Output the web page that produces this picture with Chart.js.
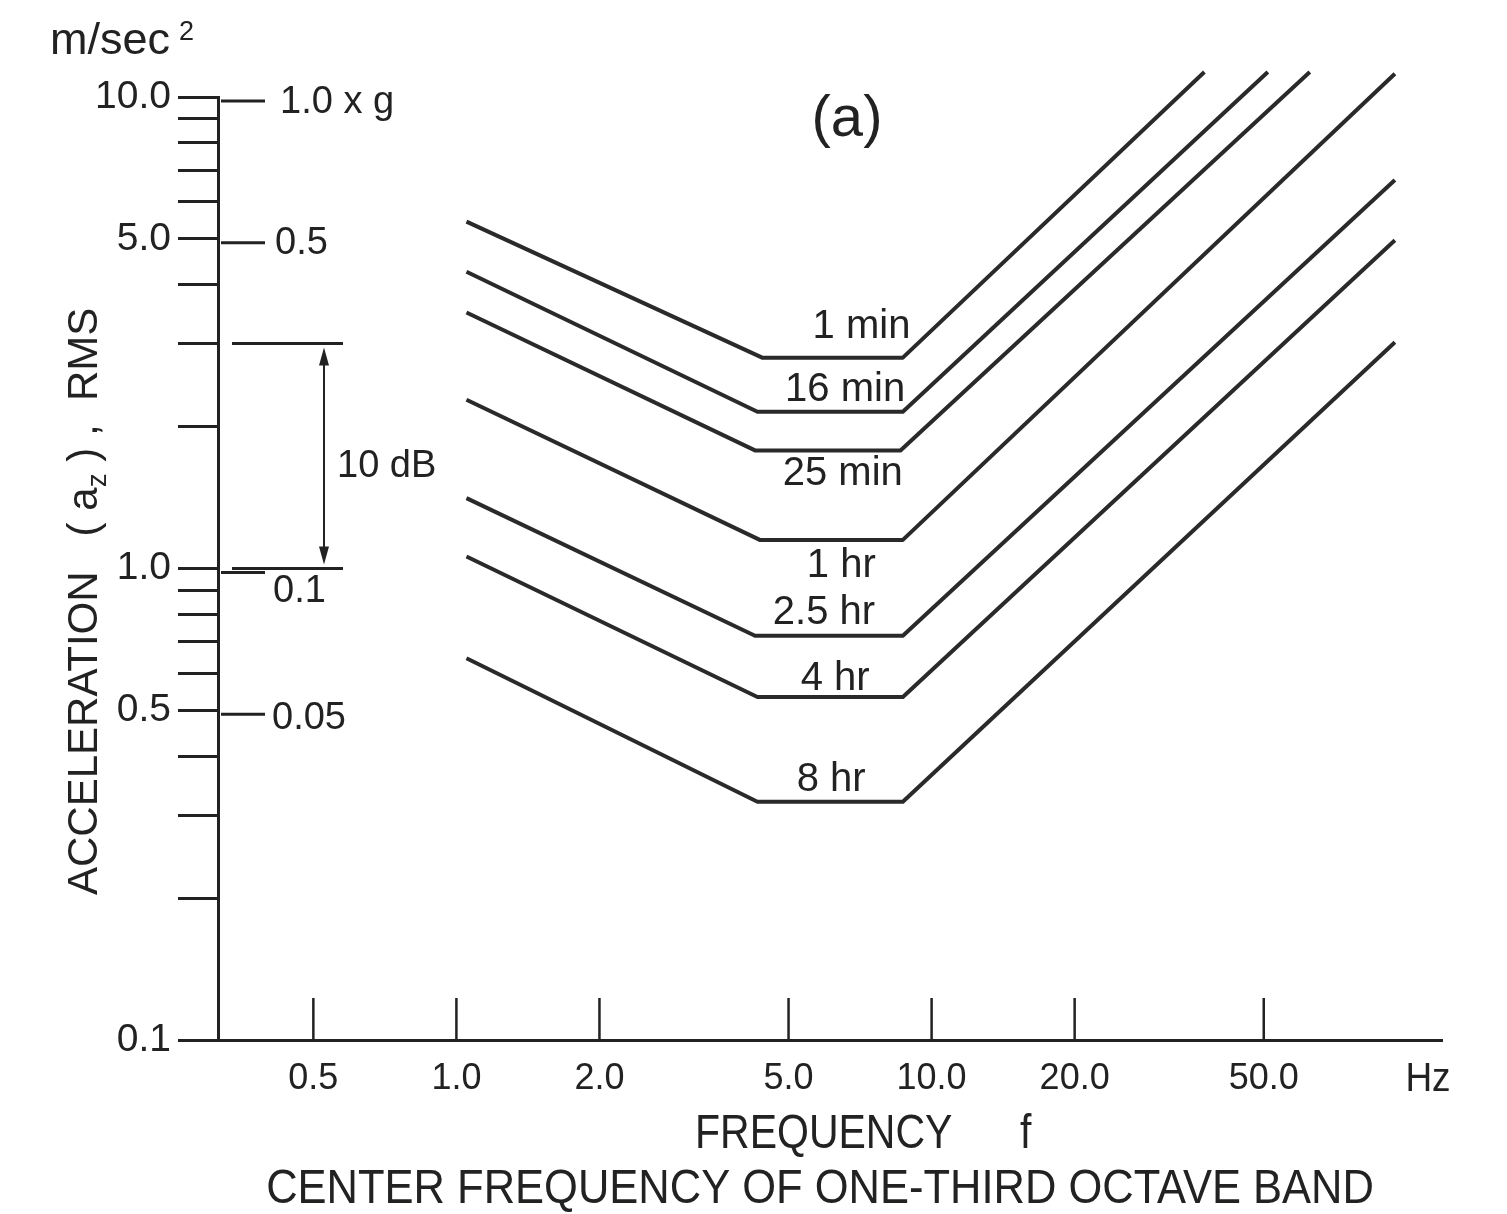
<!DOCTYPE html>
<html><head><meta charset="utf-8">
<script src="https://cdn.jsdelivr.net/npm/chart.js@4/dist/chart.umd.min.js"></script>
<style>html,body{margin:0;padding:0;background:#fff;}#wrap{width:1507px;height:1214px;}</style>
</head><body><div id="wrap"><canvas id="c" width="1507" height="1214"></canvas></div>
<script>
// ---------------- data ----------------
const seriesNames = ['1 min', '16 min', '25 min', '1 hr', '2.5 hr', '4 hr', '8 hr'];
// frequency (Hz) breakpoints and RMS acceleration (m/s^2)
const f1min  = [1.05, 4.4, 8.7, 37.5];  const a1min  = [5.44, 2.80, 2.80, 11.3];
const f16min = [1.05, 4.3, 8.7, 51.0];  const a16min = [4.26, 2.15, 2.15, 11.3];
const f25min = [1.05, 4.25, 8.6, 62.5]; const a25min = [3.49, 1.78, 1.78, 11.3];
const f1hr   = [1.05, 4.35, 8.7, 94.4]; const a1hr   = [2.28, 1.15, 1.15, 11.2];
const f25hr  = [1.05, 4.25, 8.7, 94.4]; const a25hr  = [1.41, 0.72, 0.72, 6.67];
const f4hr   = [1.05, 4.3, 8.7, 94.4];  const a4hr   = [1.06, 0.534, 0.534, 4.97];
const f8hr   = [1.05, 4.3, 8.7, 94.4];  const a8hr   = [0.645, 0.32, 0.32, 3.02];
const seriesFreqs = [f1min, f16min, f25min, f1hr, f25hr, f4hr, f8hr];
const seriesAccs  = [a1min, a16min, a25min, a1hr, a25hr, a4hr, a8hr];

const xTicks = [0.5, 1, 2, 5, 10, 20, 50];
const xTickLabels = ['0.5', '1.0', '2.0', '5.0', '10.0', '20.0', '50.0'];
const yTicks = [0.1, 0.2, 0.3, 0.4, 0.5, 0.6, 0.7, 0.8, 0.9, 1, 2, 3, 4, 5, 6, 7, 8, 9, 10];
const yLabeledValues = [0.1, 0.5, 1, 5, 10];
const yLabelTexts = ['0.1', '0.5', '1.0', '5.0', '10.0'];
const gValues = [1.0, 0.5, 0.1, 0.05];
const gLabels = ['1.0 x g', '0.5', '0.1', '0.05'];
const G = 9.81;
const dBLow = 1.0, dBHigh = 3.0;

// ---------------- styling ----------------
const ink = '#222';
const lineInk = '#2a2a2a';
const FONT = '"Liberation Sans", Arial, Helvetica, sans-serif';
Chart.defaults.font.family = FONT;
Chart.defaults.color = ink;
// label placement relative to each curve's flat part (pixels)
const labelDx = [29, 15, 15, 10, -5, 5, 1];
const labelDy = [-31, -22, 24, 26, -23, -18, -22];
const gLabelDy = [2, 1, 19, 4];
const gLabelDx = [62, 57, 55, 54];

function seg(ctx, x1, y1, x2, y2) { ctx.beginPath(); ctx.moveTo(x1, y1); ctx.lineTo(x2, y2); ctx.stroke(); }
function tallText(ctx, t, px, py, sy) { ctx.save(); ctx.translate(px, py); ctx.scale(1, sy); ctx.fillText(t, 0, 0); ctx.restore(); }

const annot = {
  id: 'annot',
  afterDraw(chart) {
    const { ctx, chartArea, scales: { x, y } } = chart;
    const L = y.right, B = chartArea.bottom;
    ctx.save();
    ctx.strokeStyle = ink; ctx.fillStyle = ink; ctx.lineCap = 'butt';
    // upward x tick marks
    ctx.lineWidth = 2.5;
    xTicks.forEach(v => { const px = x.getPixelForValue(v); seg(ctx, px, B, px, B - 42); });
    // g scale on right side of the y axis
    ctx.lineWidth = 3;
    ctx.font = '38px ' + FONT; ctx.textAlign = 'left'; ctx.textBaseline = 'middle';
    gValues.forEach((g, i) => {
      const py = y.getPixelForValue(g * G);
      seg(ctx, L + 3, py, L + 47, py);
      ctx.fillText(gLabels[i], L + gLabelDx[i], py + gLabelDy[i]);
    });
    // 10 dB annotation
    const yLo = y.getPixelForValue(dBLow), yHi = y.getPixelForValue(dBHigh);
    seg(ctx, L + 14, yLo, L + 125, yLo);
    seg(ctx, L + 14, yHi, L + 125, yHi);
    const ax = L + 106;
    ctx.lineWidth = 2;
    seg(ctx, ax, yHi + 14, ax, yLo - 14);
    ctx.beginPath(); ctx.moveTo(ax, yHi + 4); ctx.lineTo(ax - 5, yHi + 22); ctx.lineTo(ax + 5, yHi + 22); ctx.closePath(); ctx.fill();
    ctx.beginPath(); ctx.moveTo(ax, yLo - 4); ctx.lineTo(ax - 5, yLo - 22); ctx.lineTo(ax + 5, yLo - 22); ctx.closePath(); ctx.fill();
    ctx.font = '38px ' + FONT; ctx.textAlign = 'left'; ctx.textBaseline = 'middle';
    ctx.fillText('10 dB', L + 119, (yLo + yHi) / 2 + 10);
    // curve labels
    ctx.font = '40px ' + FONT; ctx.textAlign = 'center'; ctx.textBaseline = 'middle';
    seriesNames.forEach((n, i) => {
      const fr = seriesFreqs[i], ac = seriesAccs[i];
      const cx = (x.getPixelForValue(fr[1]) + x.getPixelForValue(fr[2])) / 2 + labelDx[i];
      const cy = y.getPixelForValue(ac[1]) + labelDy[i];
      ctx.fillText(n, cx, cy);
    });
    // (a)
    ctx.font = '58px ' + FONT; ctx.fillText('(a)', 847, 120);
    // unit m/sec^2
    ctx.textAlign = 'left'; ctx.textBaseline = 'alphabetic';
    ctx.font = '45px ' + FONT; ctx.fillText('m/sec', 50, 54);
    const w = ctx.measureText('m/sec').width;
    ctx.font = '27px ' + FONT; ctx.fillText('2', 50 + w + 9, 40);
    // Hz
    ctx.font = '37px ' + FONT; ctx.textAlign = 'center'; tallText(ctx, 'Hz', 1428, 1091, 1.1);
    // x titles
    ctx.font = '41px ' + FONT; ctx.textAlign = 'left';
    tallText(ctx, 'FREQUENCY', 695, 1148, 1.15);
    tallText(ctx, 'f', 1020, 1148, 1.15);
    ctx.font = '43.5px ' + FONT; ctx.textAlign = 'center';
    tallText(ctx, 'CENTER FREQUENCY OF ONE-THIRD OCTAVE BAND', 820, 1203, 1.1);
    // y title (rotated) with subscript
    ctx.save();
    ctx.translate(97, 895); ctx.rotate(-Math.PI / 2);
    ctx.textAlign = 'left'; ctx.textBaseline = 'alphabetic';
    let cx = 0;
    const parts = [['ACCELERATION   ( a', 42, 0], ['z', 28, 9], [' ) ,  RMS', 42, 0]];
    parts.forEach(([t, s, dy]) => { ctx.font = s + 'px ' + FONT; ctx.fillText(t, cx, dy); cx += ctx.measureText(t).width; });
    ctx.restore();
    ctx.restore();
  }
};

new Chart(document.getElementById('c'), {
  type: 'line',
  data: {
    datasets: seriesNames.map((n, i) => ({
      label: n,
      data: seriesFreqs[i].map((f, j) => ({ x: f, y: seriesAccs[i][j] })),
      borderColor: lineInk, borderWidth: 4, pointRadius: 0, tension: 0, fill: false,
      clip: false, borderJoinStyle: 'round', borderCapStyle: 'butt'
    }))
  },
  options: {
    responsive: false, animation: false, devicePixelRatio: 1,
    layout: { padding: { top: 97, right: 65, bottom: 0, left: 0 } },
    plugins: { legend: { display: false }, tooltip: { enabled: false }, title: { display: false } },
    scales: {
      x: {
        type: 'logarithmic', position: 'bottom', bounds: 'data', min: 0.315, max: 118.6, offset: false,
        afterBuildTicks: s => { s.ticks = xTicks.map(v => ({ value: v })); },
        afterFit: s => { s.height = 174; s.paddingLeft = 0; s.paddingRight = 0; },
        grid: { display: true, drawOnChartArea: false, drawTicks: false, offset: false },
        border: { display: true, color: ink, width: 3 },
        ticks: { autoSkip: false, maxRotation: 0, minRotation: 0, padding: 17, color: ink, font: { size: 36 },
          callback: (v, i) => xTickLabels[i] }
      },
      y: {
        type: 'logarithmic', position: 'left', bounds: 'data', min: 0.1, max: 10,
        afterBuildTicks: s => { s.ticks = yTicks.map(v => ({ value: v })); },
        afterFit: s => { s.width = 218; s.paddingTop = 0; s.paddingBottom = 0; },
        grid: { display: true, drawOnChartArea: false, drawTicks: true, tickLength: 40, tickWidth: 3, tickColor: ink },
        border: { display: true, color: ink, width: 3 },
        ticks: { autoSkip: false, padding: 7, color: ink, font: { size: 39 },
          callback: (v) => { const k = yLabeledValues.findIndex(t => Math.abs(t - v) < 1e-9); return k >= 0 ? yLabelTexts[k] : ''; } }
      }
    }
  },
  plugins: [annot]
});
</script></body></html>
